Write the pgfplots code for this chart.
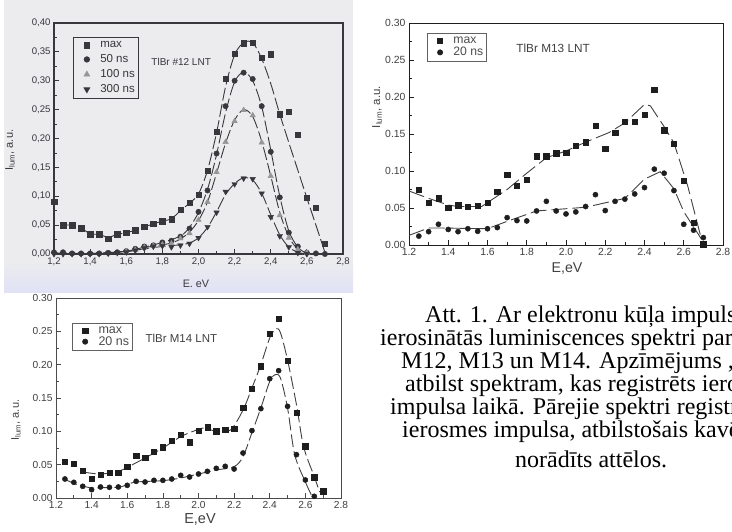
\documentclass[border=0pt]{standalone}
\usepackage{pgfplots}
\pgfplotsset{compat=1.18}
\usepackage{fontspec}
\setmainfont{Liberation Sans}
\newfontfamily\capfont{Liberation Serif}

\definecolor{scanbg}{RGB}{236,236,238}
\definecolor{scanblue}{RGB}{224,226,246}
\definecolor{ink}{RGB}{30,30,30}
\definecolor{scanink}{RGB}{55,55,60}
\definecolor{trigray}{RGB}{150,150,150}

\newcommand{\fs}[1]{\fontsize{#1}{#1}\selectfont}

\pgfplotsset{
  spec/.style={
    scale only axis, anchor=south west,
    xmin=1.2, xmax=2.8, ymin=0,
    clip=false, tick align=inside,
    xtick pos=lower, ytick pos=left,
    minor x tick num=1, minor y tick num=1,
    major tick length=5pt, minor tick length=3pt,
    xtick={1.2,1.4,1.6,1.8,2.0,2.2,2.4,2.6,2.8},
    /pgf/number format/assume math mode=true,
    legend cell align=left,
    legend image code/.code={\path (-11pt,0pt) (11pt,0pt);
      \draw[##1] plot coordinates {(0pt,0pt)};},
  },
  pts/.style={only marks},
  fit/.style={no marks, forget plot, line width=0.9pt},
}

\begin{document}
\begin{tikzpicture}
\useasboundingbox (0pt,0pt) rectangle (732pt,532pt);

% scanned panel background
\fill[scanbg] (4pt,270pt) rectangle (353pt,532pt);
\shade[top color=scanbg, bottom color=scanblue] (4pt,239pt) rectangle (353pt,270.5pt);

%% panel 1: TlBr #12
\begin{axis}[spec, at={(54pt,278pt)}, width=289pt, height=231pt,
  ymax=0.40, ytick={0,0.05,0.1,0.15,0.2,0.25,0.3,0.35,0.4},
  xticklabel style={/pgf/number format/.cd, use comma, fixed, fixed zerofill, precision=1},
  yticklabel style={/pgf/number format/.cd, use comma, fixed, fixed zerofill, precision=2},
  axis line style={scanink, line width=1.1pt},
  tick style={scanink, line width=0.8pt},
  tick label style={font=\fs{9.6}, text=scanink},
  legend style={at={(0.066,0.939)}, anchor=north west, draw=scanink, line width=0.8pt,
    fill=none, font=\fs{11.5}, text=scanink, row sep=1.5pt, inner sep=2pt},
]
\addplot[pts, mark=square*, mark size=2.7pt, color=scanink] coordinates {
(1.20,0.091)(1.25,0.050)(1.30,0.050)(1.35,0.045)(1.40,0.034)(1.45,0.034)(1.50,0.027)
(1.55,0.034)(1.60,0.037)(1.65,0.041)(1.70,0.047)(1.75,0.052)(1.80,0.057)(1.85,0.060)
(1.90,0.077)(1.95,0.089)(2.00,0.103)(2.05,0.144)(2.10,0.212)(2.15,0.304)(2.20,0.347)
(2.25,0.365)(2.30,0.366)(2.35,0.340)(2.40,0.346)(2.45,0.242)(2.50,0.246)(2.55,0.207)
(2.60,0.097)(2.65,0.080)(2.70,0.018)};
\addlegendentry{max}
\addplot[pts, mark=*, mark size=2.7pt, color=scanink] coordinates {
(1.20,0.003)(1.25,0.003)(1.30,0.001)(1.35,0.001)(1.40,0.001)(1.45,0.001)(1.50,0.002)
(1.55,0.003)(1.60,0.005)(1.65,0.009)(1.70,0.013)(1.75,0.015)(1.80,0.020)(1.85,0.023)
(1.90,0.030)(1.95,0.044)(2.00,0.073)(2.05,0.110)(2.10,0.174)(2.15,0.256)(2.20,0.300)
(2.25,0.314)(2.30,0.303)(2.35,0.256)(2.40,0.177)(2.45,0.098)(2.50,0.037)(2.55,0.013)
(2.60,0.002)(2.65,0.001)(2.70,0.000)};
\addlegendentry{50 ns}
\addplot[pts, mark=triangle*, mark size=3.2pt, color=trigray] coordinates {
(1.60,0.004)(1.65,0.007)(1.70,0.011)(1.75,0.014)(1.80,0.016)(1.85,0.018)(1.90,0.027)
(1.95,0.036)(2.00,0.059)(2.05,0.090)(2.10,0.142)(2.15,0.194)(2.20,0.230)(2.25,0.249)
(2.30,0.240)(2.35,0.193)(2.40,0.135)(2.45,0.067)(2.50,0.028)(2.55,0.008)(2.60,0.002)};
\addlegendentry{100 ns}
\addplot[pts, mark=triangle*, mark options={rotate=180}, mark size=3.2pt, color=scanink] coordinates {
(1.20,0.000)(1.25,0.000)(1.30,0.000)(1.35,0.000)(1.40,0.000)(1.45,0.000)(1.50,0.001)
(1.55,0.002)(1.60,0.003)(1.65,0.006)(1.70,0.010)(1.75,0.013)(1.80,0.014)(1.85,0.012)
(1.90,0.015)(1.95,0.018)(2.00,0.028)(2.05,0.047)(2.10,0.072)(2.15,0.108)(2.20,0.121)
(2.25,0.131)(2.30,0.130)(2.35,0.105)(2.40,0.064)(2.45,0.031)(2.50,0.012)(2.55,0.002)
(2.60,0.000)};
\addlegendentry{300 ns\hspace{6pt}}
% fitted curves
\addplot[fit, smooth, scanink, dash pattern=on 13pt off 3.5pt] coordinates {
(1.25,0.050)(1.30,0.050)(1.35,0.045)(1.40,0.035)(1.45,0.034)(1.50,0.029)(1.55,0.034)
(1.60,0.037)(1.65,0.041)(1.70,0.047)(1.75,0.052)(1.80,0.057)(1.85,0.061)(1.90,0.075)
(1.95,0.088)(2.00,0.104)(2.05,0.145)(2.10,0.210)(2.15,0.290)(2.20,0.345)(2.25,0.366)
(2.30,0.366)(2.35,0.338)(2.40,0.295)(2.45,0.242)(2.50,0.193)(2.55,0.145)(2.60,0.097)
(2.65,0.050)(2.70,0.003)};
\addplot[fit, smooth, scanink, dash pattern=on 13pt off 3.5pt] coordinates {
(1.20,0.002)(1.40,0.001)(1.60,0.005)(1.70,0.012)(1.80,0.020)(1.90,0.031)(1.95,0.046)
(2.00,0.072)(2.05,0.112)(2.10,0.172)(2.15,0.245)(2.20,0.298)(2.25,0.315)(2.30,0.300)
(2.35,0.255)(2.40,0.180)(2.45,0.100)(2.50,0.040)(2.55,0.012)(2.60,0.002)(2.70,0.000)};
\addplot[fit, smooth, scanink, dash pattern=on 13pt off 3.5pt] coordinates {
(1.60,0.004)(1.70,0.011)(1.80,0.016)(1.85,0.019)(1.90,0.026)(1.95,0.038)(2.00,0.058)
(2.05,0.090)(2.10,0.140)(2.15,0.192)(2.20,0.232)(2.25,0.250)(2.30,0.238)(2.35,0.195)
(2.40,0.135)(2.45,0.072)(2.50,0.030)(2.55,0.008)(2.60,0.001)};
\addplot[fit, smooth, scanink, dash pattern=on 13pt off 3.5pt] coordinates {
(1.20,0.001)(1.40,0.001)(1.60,0.004)(1.70,0.009)(1.80,0.013)(1.90,0.016)(1.95,0.019)
(2.00,0.028)(2.05,0.046)(2.10,0.073)(2.15,0.103)(2.20,0.122)(2.25,0.132)(2.30,0.128)
(2.35,0.105)(2.40,0.068)(2.45,0.033)(2.50,0.012)(2.55,0.003)(2.60,0.000)};
\node[font=\fs{10}, text=scanink, anchor=center] at (rel axis cs:0.44,0.83) {TlBr \#12 LNT};
\end{axis}
\node[font=\fs{10.8}, text=scanink] at (196pt,248pt) {E. eV};
\node[font=\fs{11}, text=scanink, rotate=90] at (10pt,382pt) {I\textsubscript{lum}, a.u.};

%% panel 2: TlBr M13
\begin{axis}[spec, at={(409pt,287pt)}, width=314pt, height=222pt,
  ymax=0.30, ytick={0,0.05,0.1,0.15,0.2,0.25,0.3},
  xticklabel style={/pgf/number format/.cd, fixed, fixed zerofill, precision=1},
  yticklabel style={/pgf/number format/.cd, fixed, fixed zerofill, precision=2},
  axis line style={ink, line width=0.9pt},
  tick style={ink, line width=0.7pt},
  tick label style={font=\fs{10.4}, text=ink!85},
  legend style={at={(0.057,0.955)}, anchor=north west, draw=ink!70, line width=0.7pt,
    fill=none, font=\fs{12.2}, text=ink!80, row sep=-1.5pt, inner sep=1.5pt},
]
\addplot[pts, mark=square*, mark size=2.7pt, color=ink] coordinates {
(1.25,0.0745)(1.30,0.057)(1.35,0.063)(1.40,0.050)(1.45,0.054)(1.50,0.052)(1.55,0.053)
(1.60,0.057)(1.65,0.072)(1.70,0.095)(1.75,0.080)(1.80,0.088)(1.85,0.120)(1.90,0.120)
(1.95,0.124)(2.00,0.125)(2.05,0.134)(2.10,0.139)(2.15,0.161)(2.20,0.130)(2.25,0.152)
(2.30,0.167)(2.35,0.167)(2.40,0.176)(2.45,0.210)(2.50,0.155)(2.55,0.137)(2.60,0.087)
(2.65,0.030)(2.70,0.001)};
\addlegendentry{max}
\addplot[pts, mark=*, mark size=2.6pt, color=ink] coordinates {
(1.25,0.012)(1.30,0.018)(1.35,0.028)(1.40,0.021)(1.45,0.018)(1.50,0.022)(1.55,0.0185)
(1.60,0.022)(1.65,0.0235)(1.70,0.037)(1.75,0.033)(1.80,0.0325)(1.85,0.046)(1.90,0.059)
(1.95,0.046)(2.00,0.042)(2.05,0.0447)(2.10,0.052)(2.15,0.068)(2.20,0.0465)(2.25,0.059)
(2.30,0.062)(2.35,0.069)(2.40,0.0776)(2.45,0.1025)(2.50,0.097)(2.55,0.0735)(2.60,0.028)
(2.65,0.020)(2.70,0.010)};
\addlegendentry{20 ns\hspace{4pt}}
\addplot[fit, ink!85, dash pattern=on 16pt off 5pt] coordinates {
(1.20,0.073)(1.30,0.063)(1.40,0.054)(1.45,0.052)(1.57,0.052)(1.70,0.075)(1.80,0.097)
(1.90,0.118)(2.00,0.127)(2.10,0.139)(2.22,0.152)(2.30,0.165)(2.40,0.190)(2.43,0.188)
(2.50,0.160)(2.55,0.138)(2.62,0.080)(2.69,0.008)};
\addplot[fit, ink!85, dash pattern=on 16pt off 5pt] coordinates {
(1.20,0.013)(1.30,0.023)(1.35,0.023)(1.60,0.022)(1.70,0.032)(1.85,0.046)(2.10,0.051)
(2.30,0.063)(2.40,0.089)(2.48,0.099)(2.55,0.076)(2.60,0.045)(2.69,0.008)};
\node[font=\fs{11.8}, text=ink!85] at (rel axis cs:0.459,0.887) {TlBr M13 LNT};
\end{axis}
\node[font=\fs{14.2}, text=ink!85] at (567pt,263pt) {E,eV};
\node[font=\fs{11.5}, text=ink!85, rotate=90] at (377pt,425pt) {I\textsubscript{lum}, a.u.};

%% panel 3: TlBr M14
\begin{axis}[spec, at={(56pt,34pt)}, width=285pt, height=200pt,
  ymax=0.30, ytick={0,0.05,0.1,0.15,0.2,0.25,0.3},
  xticklabel style={/pgf/number format/.cd, fixed, fixed zerofill, precision=1},
  yticklabel style={/pgf/number format/.cd, fixed, fixed zerofill, precision=2},
  axis line style={ink!80, line width=0.8pt},
  tick style={ink!80, line width=0.7pt},
  tick label style={font=\fs{10.2}, text=ink!85},
  legend style={at={(0.056,0.875)}, anchor=north west, draw=ink!70, line width=0.7pt,
    fill=none, font=\fs{12.5}, text=ink!80, row sep=-2.5pt, inner sep=1.5pt},
]
\addplot[pts, mark=square*, mark size=2.7pt, color=ink] coordinates {
(1.25,0.054)(1.30,0.0515)(1.35,0.041)(1.40,0.0285)(1.45,0.035)(1.50,0.0375)(1.55,0.0375)
(1.60,0.0465)(1.65,0.0635)(1.70,0.060)(1.75,0.069)(1.80,0.076)(1.85,0.086)(1.90,0.0945)
(1.95,0.0835)(2.00,0.101)(2.05,0.106)(2.10,0.100)(2.15,0.1025)(2.20,0.104)(2.25,0.135)
(2.30,0.164)(2.35,0.1975)(2.40,0.2465)(2.45,0.269)(2.50,0.206)(2.55,0.128)(2.60,0.0775)
(2.65,0.031)(2.70,0.010)};
\addlegendentry{max}
\addplot[pts, mark=*, mark size=2.6pt, color=ink] coordinates {
(1.25,0.0285)(1.30,0.0235)(1.35,0.0175)(1.40,0.0125)(1.45,0.0165)(1.50,0.016)(1.55,0.0165)
(1.60,0.019)(1.65,0.025)(1.70,0.024)(1.75,0.0265)(1.80,0.0265)(1.85,0.0285)(1.90,0.034)
(1.95,0.0315)(2.00,0.036)(2.05,0.040)(2.10,0.0445)(2.15,0.0475)(2.20,0.0435)(2.25,0.0675)
(2.30,0.101)(2.35,0.134)(2.40,0.179)(2.45,0.191)(2.50,0.1375)(2.55,0.065)(2.60,0.027)
(2.65,0.0025)};
\addlegendentry{20 ns\hspace{6pt}}
\addplot[fit, smooth, ink!85, dash pattern=on 13pt off 4pt] coordinates {
(1.35,0.039)(1.45,0.036)(1.55,0.040)(1.60,0.046)(1.70,0.060)(1.80,0.075)(1.90,0.092)
(1.97,0.100)(2.03,0.105)(2.10,0.100)(2.18,0.102)(2.25,0.132)(2.30,0.165)(2.35,0.200)
(2.40,0.240)(2.435,0.254)(2.46,0.248)(2.50,0.207)(2.55,0.140)(2.59,0.077)(2.65,0.032)
(2.68,0.009)};
\addplot[fit, smooth, ink!85, dash pattern=on 13pt off 4pt] coordinates {
(1.25,0.028)(1.30,0.022)(1.35,0.018)(1.40,0.015)(1.45,0.0155)(1.55,0.016)(1.60,0.020)
(1.65,0.024)(1.80,0.026)(1.90,0.030)(2.00,0.036)(2.10,0.042)(2.20,0.047)(2.25,0.062)
(2.30,0.098)(2.35,0.135)(2.40,0.175)(2.43,0.185)(2.46,0.180)(2.50,0.135)(2.54,0.065)
(2.60,0.024)(2.64,0.001)};
\node[font=\fs{11.5}, text=ink!85] at (rel axis cs:0.44,0.80) {TlBr M14 LNT};
\end{axis}
\node[font=\fs{14.5}, text=ink!85] at (200pt,13pt) {E,eV};
\node[font=\fs{11}, text=ink!85, rotate=90] at (16pt,112pt) {I\textsubscript{lum}, a.u.};

%% caption, cut off at the right edge as in the page
\begin{scope}
\clip (0pt,0pt) rectangle (732pt,532pt);
\begin{scope}[font=\capfont\fs{24}, text=black]
\node[anchor=base west, inner sep=0pt] at (425pt,209pt) {Att. 1. Ar elektronu kūļa impulsa};
\node[anchor=base west, inner sep=0pt] at (380pt,186pt) {ierosinātās luminiscences spektri paraugiem};
\node[anchor=base west, inner sep=0pt] at (401pt,163pt) {M12, M13 un M14. Apzīmējums „max”};
\node[anchor=base west, inner sep=0pt] at (405pt,140pt) {atbilst spektram, kas registrēts ierosmes};
\node[anchor=base west, inner sep=0pt] at (390pt,117pt) {impulsa laikā. Pārejie spektri registrēti pēc};
\node[anchor=base west, inner sep=0pt] at (402pt,94pt) {ierosmes impulsa, atbilstošais kavējuma laiks};
\node[anchor=base west, inner sep=0pt] at (515pt,64pt) {norādīts attēlos.};
\end{scope}
\end{scope}
\end{tikzpicture}
\end{document}
